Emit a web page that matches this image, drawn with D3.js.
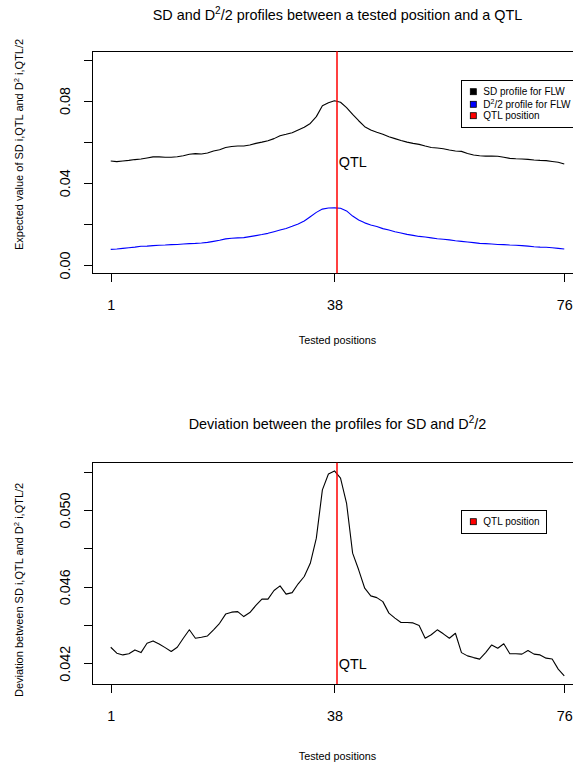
<!DOCTYPE html>
<html>
<head>
<meta charset="utf-8">
<script src="https://cdn.jsdelivr.net/npm/d3@7"></script>
<style>
  body { margin: 0; background: #fff; }
  svg { display: block; }
  text { font-family: "Liberation Sans", Arial, sans-serif; fill: #000; }
</style>
</head>
<body>
<svg id="chart" width="573" height="771"></svg>
<script>
// Expected SD(i,QTL) along the 76 tested positions
const sdProfile = [
  0.0506, 0.0503, 0.0506, 0.0509, 0.0513, 0.0516, 0.0521, 0.0526, 0.0526, 0.0524,
  0.0524, 0.0527, 0.0532, 0.0539, 0.0542, 0.0540, 0.0545, 0.0555, 0.0561, 0.0572,
  0.0577, 0.0579, 0.0579, 0.0584, 0.0592, 0.0598, 0.0605, 0.0615, 0.0629, 0.0636,
  0.0644, 0.0657, 0.0670, 0.0689, 0.0722, 0.0775, 0.0790, 0.0799, 0.0792, 0.0766,
  0.0733, 0.0702, 0.0673, 0.0657, 0.0646, 0.0636, 0.0624, 0.0615, 0.0606, 0.0598,
  0.0592, 0.0587, 0.0579, 0.0572, 0.0569, 0.0566, 0.0560, 0.0555, 0.0553, 0.0543,
  0.0535, 0.0532, 0.0530, 0.0530, 0.0529, 0.0524, 0.0519, 0.0517, 0.0516, 0.0514,
  0.0511, 0.0509, 0.0508, 0.0504, 0.0500, 0.0491
];

// Expected D^2(i,QTL)/2 along the same positions
const d2Profile = [
  0.0076, 0.0078, 0.0081, 0.0084, 0.0087, 0.0091, 0.0092, 0.0094, 0.0096, 0.0097,
  0.0099, 0.0100, 0.0102, 0.0104, 0.0105, 0.0107, 0.0110, 0.0115, 0.0120, 0.0127,
  0.0130, 0.0132, 0.0133, 0.0138, 0.0143, 0.0148, 0.0154, 0.0162, 0.0170, 0.0178,
  0.0188, 0.0200, 0.0214, 0.0235, 0.0256, 0.0272, 0.0277, 0.0278, 0.0276, 0.0263,
  0.0238, 0.0219, 0.0205, 0.0195, 0.0187, 0.0177, 0.0170, 0.0162, 0.0156, 0.0149,
  0.0144, 0.0139, 0.0136, 0.0132, 0.0128, 0.0125, 0.0122, 0.0118, 0.0115, 0.0112,
  0.0109, 0.0105, 0.0104, 0.0102, 0.0100, 0.0099, 0.0097, 0.0096, 0.0094, 0.0092,
  0.0089, 0.0087, 0.0086, 0.0084, 0.0081, 0.0078
];

// Deviation between the SD and D^2/2 profiles
const deviation = [
  0.04284, 0.04253, 0.04244, 0.04250, 0.04270, 0.04256, 0.04305, 0.04317, 0.04301, 0.04282,
  0.04262, 0.04284, 0.04331, 0.04375, 0.04331, 0.04336, 0.04343, 0.04375, 0.04409, 0.04457,
  0.04467, 0.04470, 0.04444, 0.04465, 0.04502, 0.04535, 0.04535, 0.04580, 0.04604, 0.04561,
  0.04569, 0.04615, 0.04653, 0.04722, 0.04853, 0.05105, 0.05188, 0.05204, 0.05166, 0.05035,
  0.04775, 0.04688, 0.04592, 0.04552, 0.04543, 0.04522, 0.04462, 0.04436, 0.04413, 0.04413,
  0.04411, 0.04397, 0.04331, 0.04349, 0.04375, 0.04354, 0.04331, 0.04357, 0.04256, 0.04239,
  0.04230, 0.04222, 0.04256, 0.04296, 0.04279, 0.04302, 0.04250, 0.04250, 0.04248, 0.04267,
  0.04248, 0.04244, 0.04227, 0.04223, 0.04170, 0.04135
];

const qtlPosition = 38.45;
const xTicks = [1, 38, 76];
const topYTicks = [0, 0.02, 0.04, 0.06, 0.08, 0.10];
const topYLabels = [0, 0.04, 0.08];
const topYLimits = [0, 0.1];
const bottomYTicks = [0.042, 0.044, 0.046, 0.048, 0.050, 0.052];
const bottomYLabels = [0.042, 0.046, 0.050];
const topLegend = ["SD profile for FLW", "D2/2 profile for FLW", "QTL position"];
const topLegendColors = ["#000000", "#0000ff", "#ff0000"];

const svg = d3.select("#chart");

// R-style axis range: data range widened by 4% on each side
function padRange(lo, hi) {
  const d = (hi - lo) * 0.04;
  return [lo - d, hi + d];
}

const positions = sdProfile.map((_, i) => i + 1);
const plotLeft = 92.6, plotRight = 582.4;
const x = d3.scaleLinear().domain(padRange(1, 76)).range([plotLeft, plotRight]);

const TICK = 9;
const TICK_FONT = 14.4;

function drawPanel(cfg) {
  const g = svg.append("g");
  const y = cfg.y;
  const [yBottom, yTop] = y.range();

  // x axis
  const xAxis = d3.axisBottom(x)
    .tickValues(xTicks)
    .tickFormat(d3.format("d"))
    .tickSize(TICK)
    .tickSizeOuter(0)
    .tickPadding(cfg.xLabelPad);
  const gx = g.append("g").attr("transform", `translate(0,${yBottom})`).call(xAxis);
  gx.select(".domain").remove();
  gx.selectAll(".tick line").attr("stroke", "#000").attr("shape-rendering", "crispEdges");
  gx.selectAll(".tick text").attr("font-size", TICK_FONT).attr("font-family", "Liberation Sans, Arial, sans-serif").attr("fill", "#000");

  // y axis: every tick drawn, labels only on some
  const yAxis = d3.axisLeft(y)
    .tickValues(cfg.yTicks)
    .tickFormat(d => cfg.yLabels.some(v => Math.abs(v - d) < 1e-9) ? cfg.fmt(d) : "")
    .tickSize(TICK)
    .tickSizeOuter(0);
  const gy = g.append("g").attr("transform", `translate(${plotLeft},0)`).call(yAxis);
  gy.select(".domain").remove();
  gy.selectAll(".tick line").attr("stroke", "#000").attr("shape-rendering", "crispEdges");
  gy.selectAll(".tick text")
    .attr("font-size", TICK_FONT)
    .attr("font-family", "Liberation Sans, Arial, sans-serif")
    .attr("fill", "#000")
    .attr("transform", "rotate(-90)")
    .attr("x", 0)
    .attr("y", -22.6)
    .attr("dy", 0)
    .attr("text-anchor", "middle");

  // plot box
  g.append("rect")
    .attr("x", plotLeft).attr("y", yTop)
    .attr("width", plotRight - plotLeft).attr("height", yBottom - yTop)
    .attr("fill", "none").attr("stroke", "#000").attr("stroke-width", 1)
    .attr("shape-rendering", "crispEdges");

  // profiles
  const line = d3.line().x((d, i) => x(positions[i])).y(d => y(d));
  cfg.series.forEach(s => {
    g.append("path")
      .datum(s.values)
      .attr("d", line)
      .attr("fill", "none")
      .attr("stroke", s.color)
      .attr("stroke-width", 1.1)
      .attr("stroke-linejoin", "round");
  });

  // QTL marker, centred on a pixel boundary
  const qx = Math.round(x(qtlPosition));
  g.append("line")
    .attr("x1", qx).attr("x2", qx)
    .attr("y1", yTop).attr("y2", yBottom)
    .attr("stroke", "#ff0000").attr("stroke-width", 1.5);
  g.append("text")
    .attr("x", x(qtlPosition) + 1.5)
    .attr("y", y(cfg.qtlLabelY))
    .attr("dy", "0.36em")
    .attr("font-size", 14.4)
    .text("QTL");

  // x axis title
  g.append("text")
    .attr("x", (plotLeft + plotRight) / 2)
    .attr("y", cfg.xTitleY)
    .attr("text-anchor", "middle")
    .attr("font-size", 10.8)
    .text("Tested positions");

  // main title
  const title = g.append("text")
    .attr("x", (plotLeft + plotRight) / 2)
    .attr("y", cfg.titleY)
    .attr("text-anchor", "middle")
    .attr("font-size", 14.4);
  title.append("tspan").text(cfg.titleA);
  title.append("tspan").attr("font-size", 10).attr("dy", -6).text("2");
  title.append("tspan").attr("dy", 6).text(cfg.titleB);

  // y axis title
  const yt = g.append("text")
    .attr("transform", `translate(23.3,${cfg.yTitleStart}) rotate(-90)`)
    .attr("text-anchor", "start")
    .attr("font-size", 11);
  yt.append("tspan").text(cfg.yTitleA);
  yt.append("tspan").attr("font-size", 7.7).attr("dy", -4.5).text("2");
  yt.append("tspan").attr("dy", 4.5).text(" i,QTL/2");

  return g;
}

// upper panel
const yTopPanel = d3.scaleLinear().domain(padRange(topYLimits[0], topYLimits[1])).range([273.2, 51.3]);
drawPanel({
  y: yTopPanel,
  yTicks: topYTicks,
  yLabels: topYLabels,
  fmt: d3.format(".2f"),
  series: [
    { values: sdProfile, color: "#000000" },
    { values: d2Profile, color: "#0000ff" }
  ],
  qtlLabelY: 0.05,
  xLabelPad: 18,
  xTitleY: 344,
  titleY: 19.5,
  titleA: "SD and D",
  titleB: "/2 profiles between a tested position and a QTL",
  yTitleStart: 250,
  yTitleA: "Expected value of SD i,QTL and D"
});

// lower panel
const yBottomPanel = d3.scaleLinear().domain(padRange(d3.min(deviation), d3.max(deviation))).range([684, 462.7]);
drawPanel({
  y: yBottomPanel,
  yTicks: bottomYTicks,
  yLabels: bottomYLabels,
  fmt: d3.format(".3f"),
  series: [{ values: deviation, color: "#000000" }],
  qtlLabelY: 0.042,
  xLabelPad: 18,
  xTitleY: 760,
  titleY: 429,
  titleA: "Deviation between the profiles for SD and D",
  titleB: "/2",
  yTitleStart: 697,
  yTitleA: "Deviation between SD i,QTL and D"
});

// legends
function legend(x0, y0, w, h, rows) {
  const g = svg.append("g");
  g.append("rect").attr("x", x0).attr("y", y0).attr("width", w).attr("height", h)
    .attr("fill", "#fff").attr("stroke", "#000").attr("stroke-width", 1)
    .attr("shape-rendering", "crispEdges");
  rows.forEach(r => {
    g.append("rect").attr("x", 470.3).attr("y", r.cy - 3).attr("width", 6).attr("height", 6)
      .attr("fill", r.color).attr("stroke", "#000").attr("stroke-width", 0.8);
    const t = g.append("text").attr("x", 483.3).attr("y", r.cy).attr("dy", "0.36em").attr("font-size", 10);
    if (r.label.startsWith("D2")) {
      t.append("tspan").text("D");
      t.append("tspan").attr("font-size", 7).attr("dy", -4).text("2");
      t.append("tspan").attr("dy", 4).text(r.label.slice(2));
    } else {
      t.text(r.label);
    }
  });
}

legend(461.7, 80.5, 140, 46.5, topLegend.map((label, i) => ({
  label, color: topLegendColors[i], cy: [91.7, 104.3, 115.7][i]
})));
legend(461.7, 510, 84.3, 23.3, [{ label: topLegend[2], color: topLegendColors[2], cy: 521.7 }]);
</script>
</body>
</html>
